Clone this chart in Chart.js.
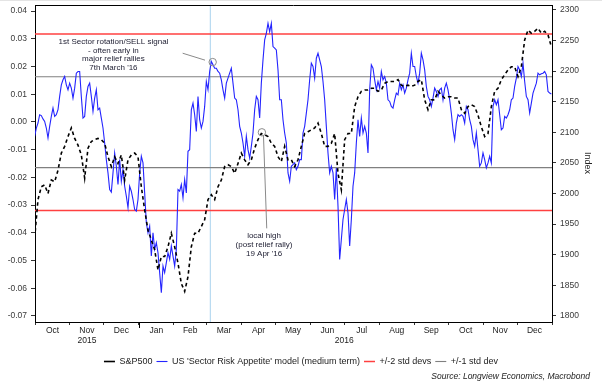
<!DOCTYPE html>
<html><head><meta charset="utf-8">
<script src="https://cdn.jsdelivr.net/npm/chart.js@4.4.1/dist/chart.umd.min.js"></script>
<style>html,body{margin:0;padding:0;background:#fff;overflow:hidden}#wrap{width:602px;height:389px;position:relative}</style>
</head><body><div id="wrap"><canvas id="c" width="602" height="389"></canvas></div>
<script>
// ---- x axis: days since 1 Oct 2015 ----
const monthStarts = [0,31,61,92,123,152,183,213,244,274,305,336,366,397,427,458];
const monthLabels = ['Oct','Nov','Dec','Jan','Feb','Mar','Apr','May','Jun','Jul','Aug','Sep','Oct','Nov','Dec'];
const yearLabels = ['2015','2016'];
const yearCenters = [46, 274];
const yearStartDay = 92;
const leftTicks = [-0.07,-0.06,-0.05,-0.04,-0.03,-0.02,-0.01,0,0.01,0.02,0.03,0.04];
const rightTicks = [1800,1850,1900,1950,2000,2050,2100,2150,2200,2250,2300];

// ---- series (sampled at regular day steps) ----
const spxStart = -0.3, spxStep = 2.953;
const spx = [
1927,1990,2011,2014,2000,2022,2019,2038,2066,2077,
2093,2107,2090,2079,2063,2025,2074,2085,2088,2090,
2088,2082,2060,2044,2060,2049,2063,2022,2055,2063,
2066,2060,2011,1973,1940,1924,1908,1875,1897,
1897,1913,1935,1913,1886,1853,1840,1864,1913,1935,
1935,1946,1957,1990,1998,1990,2011,2022,2044,2047,
2044,2033,2049,2066,2055,2047,2055,2074,2088,2098,
2096,2093,2082,2077,2060,2052,2077,2055,2055,
2044,2055,2077,2098,2101,2104,2107,2115,2098,2077,
2077,2082,2098,2033,2006,2088,2098,2098,2142,2158,
2167,2169,2169,2172,2172,2167,2169,2180,2183,2183,
2183,2186,2177,2175,2177,2175,2177,2183,2186,
2153,2137,2153,2153,2167,2161,2156,2158,2158,2156,
2156,2137,2131,2142,2145,2142,2128,2109,2093,2098,
2142,2167,2172,2186,2194,2202,2207,2207,2191,2207,
2251,2267,2262,2265,2270,2262,2265,2259,2240
];
const modelStart = -0.3, modelStep = 1.4765;
const model = [
-0.0052,-0.0022,-0.0004,0.0026,0.0023,0.0011,0.0002,-0.0022,-0.0058,-0.0016,
0.0020,0.0050,0.0020,0.0026,0.0044,0.0092,0.0134,0.0152,0.0164,0.0134,
0.0116,0.0140,0.0122,0.0086,0.0122,0.0176,0.0182,0.0182,0.0092,0.0014,
0.0020,0.0092,0.0128,0.0140,0.0092,0.0038,0.0086,0.0116,0.0044,0.0050,
0.0014,-0.0022,-0.0076,-0.0136,-0.0184,-0.0244,-0.0253,-0.0184,-0.0112,-0.0160,
-0.0226,-0.0136,-0.0214,-0.0172,-0.0232,-0.0268,-0.0310,-0.0232,-0.0250,-0.0280,
-0.0316,-0.0322,-0.0280,-0.0184,-0.0124,-0.0148,-0.0256,-0.0364,-0.0400,-0.0376,
-0.0484,-0.0400,-0.0460,-0.0436,-0.0472,-0.0544,-0.0616,-0.0520,
-0.0544,-0.0508,-0.0472,-0.0496,-0.0448,-0.0484,-0.0520,-0.0460,-0.0244,-0.0250,
-0.0226,-0.0274,-0.0208,-0.0256,-0.0106,-0.0100,0.0044,0.0068,0.0026,-0.0034,
0.0092,0.0008,-0.0022,0.0002,0.0056,0.0146,0.0116,0.0182,0.0218,0.0206,
0.0194,0.0194,0.0182,0.0176,0.0152,0.0116,0.0086,0.0140,0.0158,0.0176,
0.0194,0.0140,0.0086,0.0080,0.0044,-0.0016,-0.0040,-0.0076,-0.0124,-0.0052,
-0.0100,-0.0130,-0.0088,-0.0040,0.0044,0.0092,0.0080,0.0014,0.0140,0.0224,
0.0296,0.0320,0.0356,0.0326,0.0356,0.0272,0.0266,0.0260,0.0188,0.0080,
0.0080,0.0008,-0.0040,-0.0076,-0.0184,-0.0214,-0.0160,-0.0154,
-0.0148,-0.0172,-0.0160,-0.0136,-0.0136,-0.0040,-0.0016,0.0032,0.0080,0.0152,
0.0212,0.0200,0.0158,0.0230,0.0248,0.0224,0.0200,0.0146,0.0080,-0.0016,
-0.0112,-0.0184,-0.0160,-0.0184,-0.0280,-0.0166,-0.0304,-0.0496,-0.0424,-0.0352,
-0.0316,-0.0280,-0.0328,-0.0448,-0.0352,-0.0232,-0.0184,-0.0076,0.0008,-0.0052,
0.0014,-0.0040,-0.0016,-0.0040,-0.0112,0.0116,0.0206,0.0194,0.0152,0.0116,
0.0146,0.0122,0.0182,0.0152,0.0164,0.0140,0.0080,0.0074,0.0056,0.0050,
0.0080,0.0104,0.0098,0.0140,0.0116,0.0134,0.0104,0.0122,0.0152,0.0176,
0.0248,0.0200,0.0200,0.0164,0.0140,0.0176,0.0248,0.0224,
0.0188,0.0128,0.0092,0.0080,0.0056,0.0086,0.0122,0.0110,0.0092,0.0116,
0.0122,0.0080,0.0122,0.0140,0.0116,0.0080,0.0032,-0.0028,-0.0064,-0.0004,
0.0026,0.0020,0.0026,0.0020,-0.0004,0.0056,0.0044,0.0008,-0.0016,-0.0064,
-0.0088,-0.0040,-0.0100,-0.0160,-0.0148,-0.0112,-0.0136,-0.0166,-0.0148,-0.0124,
-0.0148,0.0056,0.0080,0.0062,0.0080,0.0026,-0.0028,-0.0022,0.0020,0.0014,
0.0026,0.0044,0.0080,0.0086,0.0128,0.0158,0.0200,0.0188,0.0164,0.0212,
0.0146,0.0092,0.0080,0.0032,0.0068,0.0104,0.0122,0.0140,0.0176,0.0170,
0.0174,0.0176,0.0182,0.0170,0.0110,0.0104,0.0101
];
const std2 = [0.0317, -0.0320];
const std1 = [0.0163, -0.0165];
const signalDay = 155.3;
const leftRange = [-0.0722, 0.0422];
const rightRange = [1790, 2308];
const dayRange = [0, 458];

// annotations (data coordinates)
const ann1Lines = ['1st Sector rotation/SELL signal','- often early in','major relief rallies',"7th March '16"];
const ann1Pos = [69.5, 0.0289];
const ann1Ptr = [[130.8, 0.0248],[150.6, 0.0223]];
const ann1Circle = [157.4, 0.0216];
const ann2Lines = ['local high','(post relief rally)',"19 Apr '16"];
const ann2Pos = [202.9, 1931];
const ann2Ptr = [[202.4, 2095],[205.3, 1943]];
const ann2Circle = [201, 2100];

const FONT = 'Liberation Sans';

const tickDefs = [];
for (let i = 0; i < monthStarts.length; i++) {
  tickDefs.push({value: monthStarts[i], label: '', major: true});
  if (i < monthLabels.length) tickDefs.push({value: (monthStarts[i] + monthStarts[i+1]) / 2, label: monthLabels[i], major: false});
}

const hline = (v) => [{x: dayRange[0], y: v}, {x: dayRange[1], y: v}];

const extras = {
  id: 'extras',
  afterDatasetsDraw(chart) {
    const {ctx, scales: {x, yL, yR}} = chart;
    ctx.save();
    ctx.strokeStyle = '#8a8a8a'; ctx.lineWidth = 1;
    ctx.beginPath();
    ctx.moveTo(x.getPixelForValue(ann1Ptr[0][0]), yL.getPixelForValue(ann1Ptr[0][1]));
    ctx.lineTo(x.getPixelForValue(ann1Ptr[1][0]), yL.getPixelForValue(ann1Ptr[1][1]));
    ctx.stroke();
    ctx.beginPath();
    ctx.arc(x.getPixelForValue(ann1Circle[0]), yL.getPixelForValue(ann1Circle[1]), 3.7, 0, Math.PI*2);
    ctx.stroke();
    ctx.beginPath();
    ctx.moveTo(x.getPixelForValue(ann2Ptr[0][0]), yR.getPixelForValue(ann2Ptr[0][1]));
    ctx.lineTo(x.getPixelForValue(ann2Ptr[1][0]), yR.getPixelForValue(ann2Ptr[1][1]));
    ctx.stroke();
    ctx.beginPath();
    ctx.arc(x.getPixelForValue(ann2Circle[0]), yR.getPixelForValue(ann2Circle[1]), 3.7, 0, Math.PI*2);
    ctx.stroke();
    ctx.fillStyle = '#1c1c30';
    ctx.font = '8px "' + FONT + '"';
    ctx.textAlign = 'center'; ctx.textBaseline = 'middle';
    const a1x = x.getPixelForValue(ann1Pos[0]), a1y = yL.getPixelForValue(ann1Pos[1]);
    ann1Lines.forEach((t, i) => ctx.fillText(t, a1x, a1y + i * 8.6));
    const a2x = x.getPixelForValue(ann2Pos[0]), a2y = yR.getPixelForValue(ann2Pos[1]);
    ann2Lines.forEach((t, i) => ctx.fillText(t, a2x, a2y + i * 9));
    ctx.restore();
  },
  afterDraw(chart) {
    const {ctx, chartArea: a, scales: {x}} = chart;
    ctx.save();
    ctx.fillStyle = '#e4e4e4'; ctx.fillRect(0, 0, 602, 1);
    ctx.strokeStyle = '#000'; ctx.lineWidth = 1;
    ctx.beginPath(); ctx.moveTo(a.left, Math.round(a.top) + 0.5); ctx.lineTo(a.right, Math.round(a.top) + 0.5); ctx.stroke();
    const jx = Math.round(x.getPixelForValue(yearStartDay)) + 0.5;
    ctx.beginPath(); ctx.moveTo(jx, a.bottom); ctx.lineTo(jx, a.bottom + 6); ctx.stroke();
    ctx.fillStyle = '#222';
    ctx.font = '8.5px "' + FONT + '"';
    ctx.textAlign = 'center'; ctx.textBaseline = 'middle';
    yearLabels.forEach((t, i) => ctx.fillText(t, x.getPixelForValue(yearCenters[i]), a.bottom + 19));
    ctx.font = 'italic 8.5px "' + FONT + '"';
    ctx.textAlign = 'right';
    ctx.fillText('Source: Longview Economics, Macrobond', 590, 377);
    ctx.save();
    ctx.translate(587, 163); ctx.rotate(Math.PI / 2);
    ctx.textAlign = 'center'; ctx.font = '9px "' + FONT + '"';
    ctx.fillText('Index', 0, 0);
    ctx.restore();
    ctx.restore();
  }
};

const tickFont = {family: FONT, size: 8.5};
const noVPad = s => { s.paddingTop = 0; s.paddingBottom = 0; };
new Chart(document.getElementById('c'), {
  type: 'line',
  data: {
    datasets: [
      {label: 'S&P500', data: spx.map((v, i) => ({x: spxStart + i * spxStep, y: v})), yAxisID: 'yR',
       borderColor: '#000', backgroundColor: '#000', borderWidth: 1.6, borderDash: [3.5, 3], pointRadius: 0, tension: 0},
      {label: "US 'Sector Risk Appetite' model (medium term)", data: model.map((v, i) => ({x: modelStart + i * modelStep, y: v})), yAxisID: 'yL',
       borderColor: '#2424ff', backgroundColor: '#2424ff', borderWidth: 1.1, pointRadius: 0, tension: 0},
      {label: '+/-2 std devs', data: hline(std2[0]), yAxisID: 'yL', borderColor: '#ff4040', backgroundColor: '#ff4040', borderWidth: 1.5, pointRadius: 0},
      {label: '+/-2 std devs', data: hline(std2[1]), yAxisID: 'yL', borderColor: '#ff4040', backgroundColor: '#ff4040', borderWidth: 1.5, pointRadius: 0},
      {label: '+/-1 std dev', data: hline(std1[0]), yAxisID: 'yL', borderColor: '#808080', backgroundColor: '#808080', borderWidth: 1.1, pointRadius: 0},
      {label: '+/-1 std dev', data: hline(std1[1]), yAxisID: 'yL', borderColor: '#808080', backgroundColor: '#808080', borderWidth: 1.1, pointRadius: 0},
      {label: 'signal', data: [{x: signalDay, y: leftRange[0]}, {x: signalDay, y: leftRange[1]}], yAxisID: 'yL', borderColor: '#a9d3ee', backgroundColor: '#a9d3ee', borderWidth: 1, pointRadius: 0}
    ]
  },
  options: {
    responsive: false, animation: false, devicePixelRatio: 1, events: [],
    layout: {padding: {top: 5, left: 0, right: 0, bottom: 13}},
    scales: {
      x: {type: 'linear', position: 'bottom', min: dayRange[0], max: dayRange[1],
        afterBuildTicks: s => { s.ticks = tickDefs.map(t => ({value: t.value})); },
        afterFit: s => { s.height = 31; s.paddingLeft = 0; s.paddingRight = 0; },
        ticks: {autoSkip: false, maxRotation: 0, minRotation: 0, padding: 1, font: tickFont, color: '#222',
          callback: (v, i) => tickDefs[i] ? tickDefs[i].label : ''},
        grid: {drawOnChartArea: false, drawTicks: true, tickLength: 3, color: '#000', tickColor: '#333',
          tickWidth: c => (tickDefs[c.index] && tickDefs[c.index].major) ? 1 : 0},
        border: {display: true, color: '#000', width: 1}
      },
      yL: {type: 'linear', position: 'left', min: leftRange[0], max: leftRange[1],
        afterBuildTicks: s => { s.ticks = leftTicks.map(v => ({value: v})); },
        afterFit: s => { s.width = 35; noVPad(s); },
        ticks: {padding: 4, font: tickFont, color: '#3a3a3a', callback: v => (Math.abs(v) < 1e-9 ? 0 : v).toFixed(2)},
        grid: {drawOnChartArea: false, drawTicks: true, tickLength: 4, color: '#000', tickColor: '#333'},
        border: {display: true, color: '#000', width: 1}
      },
      yR: {type: 'linear', position: 'right', min: rightRange[0], max: rightRange[1],
        afterBuildTicks: s => { s.ticks = rightTicks.map(v => ({value: v})); },
        afterFit: s => { s.width = 50; noVPad(s); },
        ticks: {padding: 4, font: tickFont, color: '#3a3a3a', callback: v => String(v)},
        grid: {drawOnChartArea: false, drawTicks: true, tickLength: 4, color: '#000', tickColor: '#333'},
        border: {display: true, color: '#000', width: 1}
      }
    },
    plugins: {
      tooltip: {enabled: false},
      legend: {display: true, position: 'bottom', align: 'center',
        labels: {usePointStyle: true, pointStyle: 'line', pointStyleWidth: 11, boxHeight: 6, padding: 4,
          color: '#222', font: {family: FONT, size: 9},
          filter: item => [0, 1, 2, 4].includes(item.datasetIndex)}}
    }
  },
  plugins: [extras]
});
</script></body></html>
